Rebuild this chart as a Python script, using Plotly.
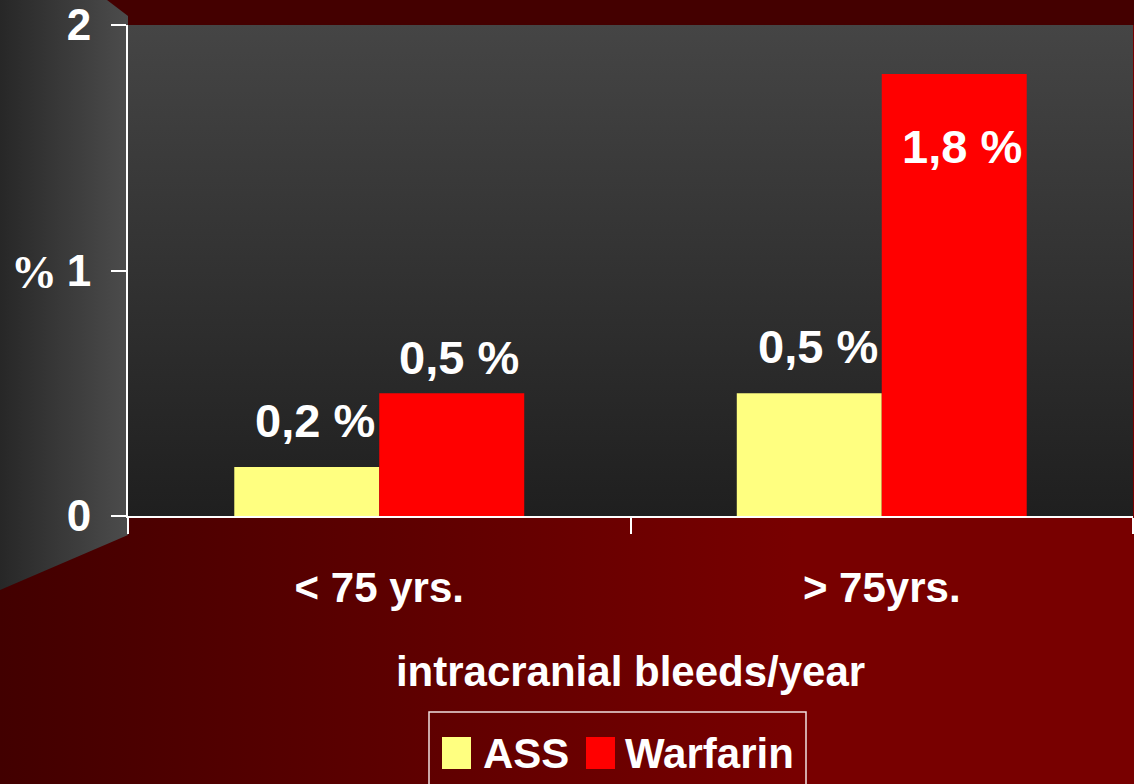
import plotly.graph_objects as go

# ---------------- data ----------------
categories = ["< 75 yrs.", "> 75yrs."]
series_names = ["ASS", "Warfarin"]
ass_values = [0.2, 0.5]
warfarin_values = [0.5, 1.8]
y_ticks = [0, 1, 2]
x_title = "intracranial bleeds/year"
y_label = "%"

# ---------------- style ----------------
W, H = 1134, 784
COL_ASS = "#FFFF80"
COL_WAR = "#FF0000"
SANS = "Liberation Sans, Arial, sans-serif"

PLOT_L, PLOT_R, PLOT_T, PLOT_B = 128, 1133, 25, 516


def fmt(v):
    return f"{v:.1f}".replace(".", ",") + " %"


fig = go.Figure()

# background decoration on a full-page pixel axis (x, y)
fig.add_trace(go.Scatter(
    x=[0, W, W, 0, 0], y=[PLOT_T, PLOT_T, H, H, PLOT_T],
    fill="toself", mode="lines", line=dict(width=0), hoverinfo="skip", showlegend=False,
    fillgradient=dict(type="horizontal", start=0, stop=W,
                      colorscale=[[0, "#420000"], [0.7, "#780000"], [1, "#780000"]]),
    xaxis="x", yaxis="y"))
# left 3D wall
fig.add_trace(go.Scatter(
    x=[0, 107, PLOT_L, PLOT_L, 0, 0], y=[0, 0, 16, 535, 590, 0],
    fill="toself", mode="lines", line=dict(width=0), hoverinfo="skip", showlegend=False,
    fillgradient=dict(type="horizontal", start=0, stop=PLOT_L,
                      colorscale=[[0, "#272727"], [1, "#4c4c4c"]]),
    xaxis="x", yaxis="y"))
# plot area
fig.add_trace(go.Scatter(
    x=[PLOT_L, PLOT_R, PLOT_R, PLOT_L, PLOT_L], y=[PLOT_T, PLOT_T, PLOT_B, PLOT_B, PLOT_T],
    fill="toself", mode="lines", line=dict(width=0), hoverinfo="skip", showlegend=False,
    fillgradient=dict(type="vertical", start=PLOT_T, stop=PLOT_B,
                      colorscale=[[0, "#454545"], [1, "#1f1f1f"]]),
    xaxis="x", yaxis="y"))

# bars
fig.add_trace(go.Bar(x=categories, y=ass_values, name=series_names[0],
                     marker=dict(color=COL_ASS, line=dict(width=0)),
                     xaxis="x2", yaxis="y2", showlegend=False))
fig.add_trace(go.Bar(x=categories, y=warfarin_values, name=series_names[1],
                     marker=dict(color=COL_WAR, line=dict(width=0)),
                     xaxis="x2", yaxis="y2", showlegend=False))

annotations = []
# data labels
label_shift = {  # (series index, category index): yshift of label centre
    (0, 0): 46, (0, 1): 47, (1, 0): 36, (1, 1): -72,
}
for si, vals in enumerate([ass_values, warfarin_values]):
    xs = -64 if si == 0 else 80
    for ci, v in enumerate(vals):
        annotations.append(dict(
            x=categories[ci], y=v, xref="x2", yref="y2", text=fmt(v), showarrow=False,
            xshift=xs, yshift=label_shift[(si, ci)], yanchor="middle", xanchor="center",
            font=dict(family=SANS, size=47, color="white", weight="bold")))

# y label "%"
annotations.append(dict(x=34, y=272, xref="x", yref="y", text=y_label, showarrow=False,
                        xanchor="center", yanchor="middle",
                        font=dict(family="Liberation Serif, Times New Roman, serif", size=46,
                                  color="white", weight="bold")))

# manual legend
shapes = [dict(type="rect", xref="x", yref="y", x0=429, x1=806, y0=712, y1=800,
               line=dict(color="#f0e0e0", width=1.5), fillcolor="rgba(0,0,0,0)")]
legend_items = [(series_names[0], COL_ASS, 442, 481), (series_names[1], COL_WAR, 586, 623)]
for name, col, sx, tx in legend_items:
    shapes.append(dict(type="rect", xref="x", yref="y", x0=sx, x1=sx + 29, y0=737, y1=769,
                       line=dict(width=0), fillcolor=col))
    annotations.append(dict(x=tx, y=753, xref="x", yref="y", text=name, showarrow=False,
                            xanchor="left", yanchor="middle",
                            font=dict(family=SANS, size=42, color="white", weight="bold")))

fig.update_layout(
    width=W, height=H,
    margin=dict(l=0, r=0, t=0, b=0, pad=0),
    paper_bgcolor="#440000",
    plot_bgcolor="rgba(0,0,0,0)",
    showlegend=False,
    barmode="group", bargap=0.423, bargroupgap=0,
    xaxis=dict(domain=[0, 1], range=[0, W], visible=False, fixedrange=True, automargin=False),
    yaxis=dict(domain=[0, 1], range=[H, 0], visible=False, fixedrange=True, automargin=False),
    xaxis2=dict(domain=[PLOT_L / W, PLOT_R / W], anchor="y2", type="category", automargin=False,
                showline=True, linecolor="white", linewidth=2,
                ticks="outside", tickson="boundaries", ticklen=16, tickwidth=2, tickcolor="white",
                showgrid=False, zeroline=False,
                tickfont=dict(family=SANS, size=42, color="white", weight="bold"),
                ticklabelstandoff=34,
                title=dict(text=x_title, standoff=46,
                           font=dict(family=SANS, size=42, color="white", weight="bold"))),
    yaxis2=dict(domain=[1 - PLOT_B / H, 1 - PLOT_T / H], anchor="x2", range=[0, 2],
                automargin=False,
                tickvals=y_ticks, ticktext=[str(t) for t in y_ticks],
                showline=True, linecolor="white", linewidth=2,
                ticks="outside", ticklen=15, tickwidth=2, tickcolor="white",
                showgrid=False, zeroline=False,
                tickfont=dict(family=SANS, size=44, color="white", weight="bold"),
                ticklabelstandoff=11),
    annotations=annotations,
    shapes=shapes,
)

fig.write_html("out.html", config={"displayModeBar": False},
               post_script="document.body.style.margin='0';document.body.style.overflow='hidden';")
